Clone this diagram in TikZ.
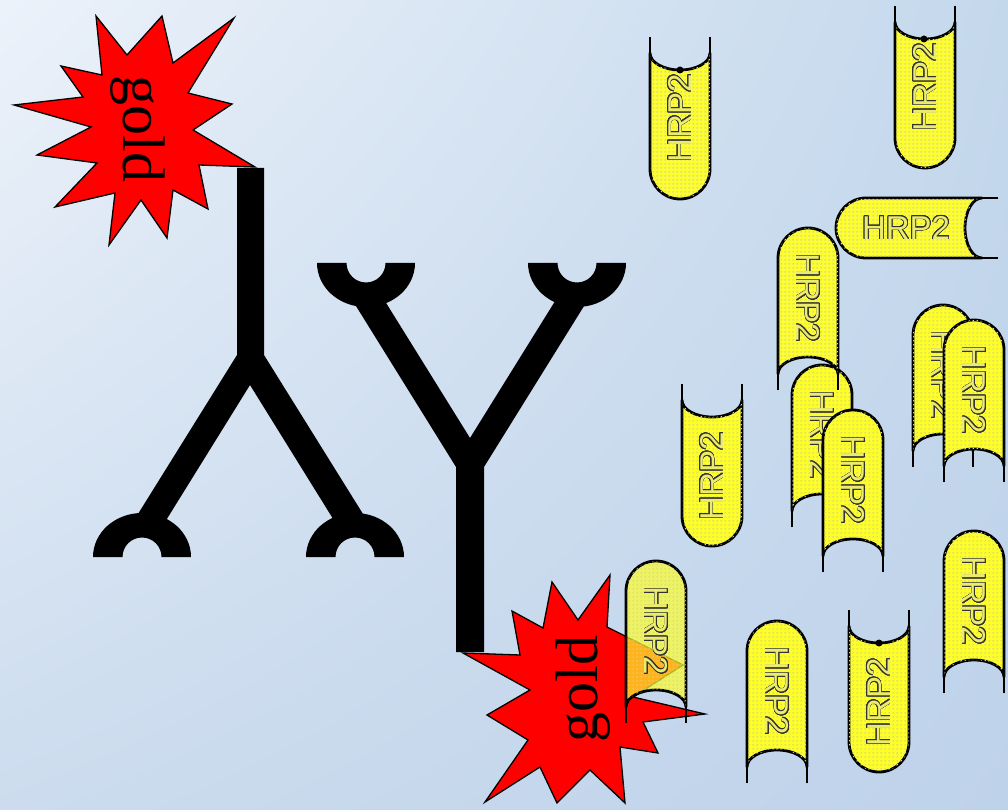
\documentclass[tikz,border=0pt]{standalone}
\usepackage{fontspec}
\usepackage[copies]{contour}
\usetikzlibrary{shadings,patterns.meta}
\newfontfamily\goldfont{Liberation Serif}
\newfontfamily\labelfont{Liberation Sans}
\definecolor{bgUL}{RGB}{236,242,250}
\definecolor{bgUR}{RGB}{196,216,236}
\definecolor{bgLL}{RGB}{204,220,238}
\definecolor{bgLR}{RGB}{190,210,234}
\definecolor{antigen}{RGB}{255,255,40}
\definecolor{grain}{RGB}{212,212,150}
\definecolor{letterfill}{RGB}{235,235,110}
\contourlength{0.8pt}
\contournumber{24}
% fine grid of small crosses used as the antigen texture
\tikzdeclarepattern{
  name=tinycross, type=uncolored,
  bounding box={(0pt,0pt) and (4pt,4pt)},
  tile size={(4pt,4pt)},
  code={\draw[line width=0.5pt] (0.6pt,0.6pt) -- (2.6pt,2.6pt) (0.6pt,2.6pt) -- (2.6pt,0.6pt);}
}
\newcommand{\hrplabel}{\contour{black!80}{\textcolor{letterfill}{HRP2}}}
\begin{document}
\begin{tikzpicture}[x=1pt,y=1pt,
  antibody/.style={fill=black},
  burst/.style={fill=red, draw=black, line width=1.3pt, line join=miter},
  goldtext/.style={font=\goldfont\fontsize{60}{60}\selectfont, inner sep=0pt},
  capsule body/.style={fill=antigen, draw=black, line width=2.8pt, line join=round,
    postaction={pattern={tinycross}, pattern color=grain}},
  capsule tip/.style={draw=black, line width=2.8pt},
  hrp label/.style={font=\labelfont\fontsize{33}{33}\selectfont, transform shape, inner sep=0pt},
  capsule/.pic={
    \filldraw[capsule body] (16,30) -- (132,30) arc[start angle=90,end angle=-90,radius=30]
      -- (16,-30) arc[start angle=-90,end angle=90,x radius=17,y radius=30] -- cycle;
    \draw[capsule tip] (0,30) -- (16,30) (0,-30) -- (16,-30);
    \node[hrp label, rotate=180] (-txt) at (#1,0) {\hrplabel};
  }
]
% background
\shade[upper left=bgUL, upper right=bgUR, lower left=bgLL, lower right=bgLR]
  (0,0) rectangle (1008,809);
\useasboundingbox (0,0) rectangle (1008,809);

% inverted antibody: stem and arms
\fill[antibody] (237,641) -- (264,641) -- (264,454) -- (368,287) -- (335,287)
  -- (250,424) -- (165,287) -- (133,287) -- (237,454) -- cycle;
% its binding caps
\fill[antibody] (93,252) arc[start angle=180,end angle=0,x radius=49,y radius=44]
  -- (161.5,252) arc[start angle=0,end angle=180,radius=19.5] -- cycle;
\fill[antibody] (306,252) arc[start angle=180,end angle=0,x radius=49,y radius=44]
  -- (374.5,252) arc[start angle=0,end angle=180,radius=19.5] -- cycle;

% upright antibody
\fill[antibody] (351,511) -- (383,511) -- (470,371) -- (557,511) -- (589,511)
  -- (484,342) -- (484,157) -- (456,157) -- (456,342) -- cycle;
\fill[antibody] (317,546) arc[start angle=180,end angle=360,x radius=49,y radius=44]
  -- (385.5,546) arc[start angle=0,end angle=-180,radius=19.5] -- cycle;
\fill[antibody] (528,546) arc[start angle=180,end angle=360,x radius=49,y radius=44]
  -- (596.5,546) arc[start angle=0,end angle=-180,radius=19.5] -- cycle;

% gold label on the inverted antibody
\filldraw[burst] (96,793) -- (127,754) -- (162,793) -- (173,746) -- (234,791) -- (188,716)
  -- (232,705) -- (193,679) -- (255,642) -- (199,644) -- (208,600) -- (173,619)
  -- (167,571) -- (141,609) -- (109,564) -- (115,616) -- (55,602) -- (97,646)
  -- (37,654) -- (91,682) -- (14,704) -- (83,712) -- (61,743) -- (102,734) -- cycle;
\node[goldtext, rotate=-90] (gold1) at (138,680) {gold};

% gold label on the upright antibody
\filldraw[burst] (552,227) -- (578,189) -- (610,234) -- (607,182) -- (683,144) -- (633,112)
  -- (705,95) -- (643,87) -- (658,56) -- (620,62) -- (625,6) -- (590,39)
  -- (557,6) -- (540,42) -- (485,7) -- (528,69) -- (487,94) -- (530,119)
  -- (463,156) -- (520,154) -- (512,198) -- (543,181) -- cycle;
\node[goldtext, rotate=90] (gold2) at (583,120) {gold};

% HRP2 antigens
\pic[rotate=-90] (c1) at (680,772) {capsule=81};
\pic[rotate=-90] (c2) at (925,803) {capsule=81};
\pic[rotate=-90] (c7) at (712,425) {capsule=92};
\pic[rotate=90] (c5) at (822,282) {capsule=92};
\pic[rotate=90] (c4) at (808,419) {capsule=92};
\pic[rotate=180] (c3) at (998,581) {capsule=92};
\pic[rotate=90] (c6) at (853,237) {capsule=92};
\pic[rotate=90] (c8) at (943,342) {capsule=92};
\pic[rotate=90] (c9) at (974,327) {capsule=92};
\pic[rotate=90] (c10) at (974,116) {capsule=92};
\pic[rotate=-90] (c11) at (879,199) {capsule=92};
\pic[rotate=90] (c12) at (777,26) {capsule=92};
\pic[rotate=90, capsule body/.append style={fill opacity=0.7}] (c13) at (656,86) {capsule=92};

% small knobs on three concave ends
\fill (680,739) circle[radius=3.5];
\fill (924,770) circle[radius=3.5];
\fill (879,166) circle[radius=3.5];
\end{tikzpicture}
\end{document}
